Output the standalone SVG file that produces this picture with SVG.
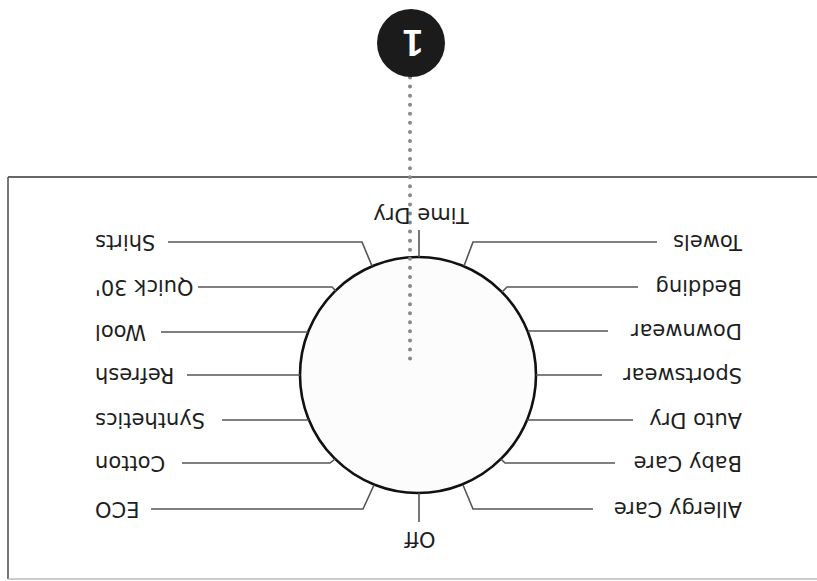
<svg xmlns="http://www.w3.org/2000/svg" width="817" height="581" viewBox="0 0 817 581">
<style>
.lbl{font-family:"DejaVu Sans","Liberation Sans",sans-serif;font-size:21px;fill:#1e1e1e;dominant-baseline:central}
.l{text-anchor:end}
.r{text-anchor:start}
.m{text-anchor:middle}
.lead{fill:none;stroke:#555;stroke-width:1.6}
</style>
<rect width="817" height="581" fill="#fff"/>
<g id="frame">
<path d="M8 177 H817" stroke="#333" stroke-width="1.6" fill="none"/>
<path d="M8 177 V579" stroke="#555" stroke-width="1.6" fill="none"/>
<path d="M8 579 H817" stroke="#bbb" stroke-width="1.5" fill="none"/>
</g>
<g id="dial">
<circle cx="418" cy="375" r="118" fill="#fcfcfc" stroke="#111" stroke-width="2.6"/>
</g>
<g id="connectors">
<path class="lead" d="M419 230 V257"/>
<path class="lead" d="M419 493 V522"/>
<path class="lead" d="M168 242 H362 L372 266"/>
<path class="lead" d="M198 287 H332 L336 291"/>
<path class="lead" d="M161 332 H308"/>
<path class="lead" d="M187 375 H300"/>
<path class="lead" d="M222 420 H309"/>
<path class="lead" d="M182 463 H330 L335 459"/>
<path class="lead" d="M151 509 H363 L374 485"/>
<path class="lead" d="M657 242 H473 L464 266"/>
<path class="lead" d="M638 287 H507 L502 292"/>
<path class="lead" d="M608 331 H528"/>
<path class="lead" d="M602 375 H536"/>
<path class="lead" d="M633 420 H527"/>
<path class="lead" d="M615 463 H505 L501 459"/>
<path class="lead" d="M593 509 H473 L463 485"/>
<path d="M410 77.5 V359" fill="none" stroke="#888" stroke-width="4" stroke-linecap="round" stroke-dasharray="0 9.065"/>
</g>
<g id="badge">
<circle cx="411" cy="43" r="34" fill="#1b1b1b"/>
<text x="413" y="42" transform="rotate(180 413 42)" style="font-family:'Liberation Sans','DejaVu Sans',sans-serif;font-size:37px;font-weight:bold;fill:#fff;text-anchor:middle;dominant-baseline:central">1</text>
</g>
<g id="time-dry"><text class="lbl m" x="421" y="215" transform="rotate(180 421 215)">Time Dry</text></g>
<g id="off"><text class="lbl m" x="420" y="539" transform="rotate(180 420 539)">Off</text></g>
<g id="shirts"><text class="lbl l" x="95" y="242" transform="rotate(180 95 242)">Shirts</text></g>
<g id="quick30"><text class="lbl l" x="95" y="287" transform="rotate(180 95 287)">Quick 30'</text></g>
<g id="wool"><text class="lbl l" x="95" y="332" transform="rotate(180 95 332)">Wool</text></g>
<g id="refresh"><text class="lbl l" x="95" y="375" transform="rotate(180 95 375)">Refresh</text></g>
<g id="synthetics"><text class="lbl l" x="95" y="420" transform="rotate(180 95 420)">Synthetics</text></g>
<g id="cotton"><text class="lbl l" x="95" y="463" transform="rotate(180 95 463)">Cotton</text></g>
<g id="eco"><text class="lbl l" x="95" y="509" transform="rotate(180 95 509)">ECO</text></g>
<g id="towels"><text class="lbl r" x="742" y="242" transform="rotate(180 742 242)">Towels</text></g>
<g id="bedding"><text class="lbl r" x="742" y="287" transform="rotate(180 742 287)">Bedding</text></g>
<g id="downwear"><text class="lbl r" x="742" y="331" transform="rotate(180 742 331)">Downwear</text></g>
<g id="sportswear"><text class="lbl r" x="742" y="375" transform="rotate(180 742 375)">Sportswear</text></g>
<g id="auto-dry"><text class="lbl r" x="742" y="420" transform="rotate(180 742 420)">Auto Dry</text></g>
<g id="baby-care"><text class="lbl r" x="742" y="463" transform="rotate(180 742 463)">Baby Care</text></g>
<g id="allergy-care"><text class="lbl r" x="742" y="509" transform="rotate(180 742 509)">Allergy Care</text></g>
</svg>
